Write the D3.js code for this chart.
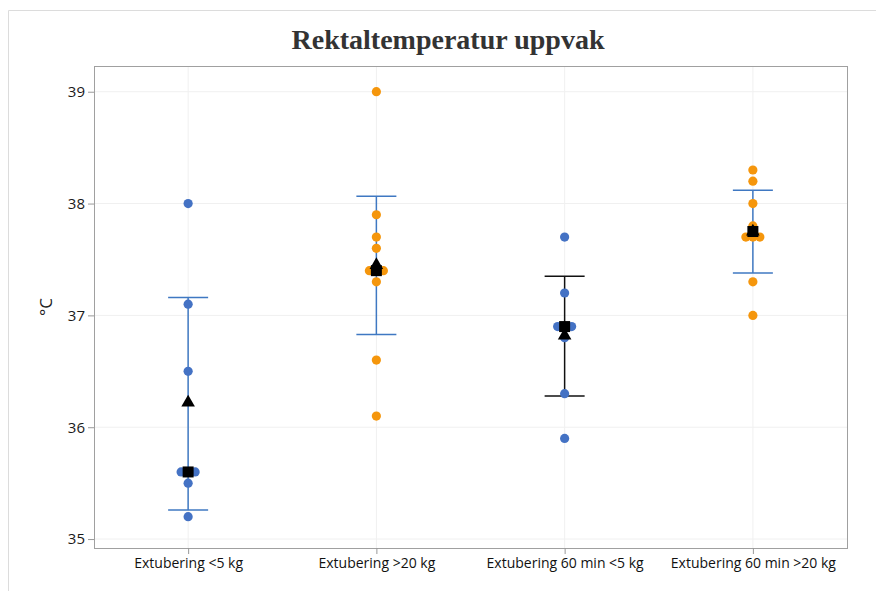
<!DOCTYPE html>
<html>
<head>
<meta charset="utf-8">
<script src="https://cdn.jsdelivr.net/npm/d3@7"></script>
<style>
  body { margin: 0; background: #fff; }
  svg { display: block; }
</style>
</head>
<body>
<div id="chart"></div>
<script>
// groups on the x axis
var categories = ["Extubering <5 kg", "Extubering >20 kg", "Extubering 60 min <5 kg", "Extubering 60 min >20 kg"];

// individual observations, one list per group
var obsLess5 = [38.0, 37.1, 36.5, 35.6, 35.6, 35.6, 35.5, 35.2];
var obsOver20 = [39.0, 37.9, 37.7, 37.6, 37.4, 37.4, 37.4, 37.3, 36.6, 36.1];
var obs60Less5 = [37.7, 37.2, 36.9, 36.9, 36.9, 36.8, 36.3, 35.9];
var obs60Over20 = [38.3, 38.2, 38.0, 37.8, 37.7, 37.7, 37.7, 37.3, 37.0];

// summary markers
var means = [36.22, 37.45, 36.82, 37.75];
var medians = [35.6, 37.4, 36.9, 37.75];
var errLow = [35.26, 36.83, 36.28, 37.38];
var errHigh = [37.16, 38.065, 37.35, 38.12];

var yTicks = [35, 36, 37, 38, 39];

var width = 876, height = 591;
var margin = { top: 66, right: 29, bottom: 43, left: 94 };
var blue = "#4472c4", orange = "#f5960c";
var pointColors = [blue, orange, blue, orange];
var errColors = ["#3f78c2", "#3f78c2", "#111", "#3f78c2"];

var svg = d3.select("#chart").append("svg")
    .attr("width", width)
    .attr("height", height);

// light outer frame
svg.append("path")
    .attr("d", "M8.5," + height + "V10.5H" + width)
    .attr("fill", "none")
    .attr("stroke", "#dcdcdc");

var x = d3.scalePoint()
    .domain(categories)
    .range([margin.left, width - margin.right])
    .padding(0.5);

var y = d3.scaleLinear()
    .domain([34.92, 39.23])
    .range([height - margin.bottom, margin.top]);

// gridlines
svg.append("g").selectAll("line.h")
    .data(yTicks).enter().append("line")
    .attr("x1", margin.left).attr("x2", width - margin.right)
    .attr("y1", function (d) { return y(d); }).attr("y2", function (d) { return y(d); })
    .attr("stroke", "#f0f0f0");

svg.append("g").selectAll("line.v")
    .data(categories).enter().append("line")
    .attr("y1", margin.top).attr("y2", height - margin.bottom)
    .attr("x1", function (d) { return x(d); }).attr("x2", function (d) { return x(d); })
    .attr("stroke", "#f0f0f0");

// plot box
svg.append("rect")
    .attr("x", margin.left + 0.5).attr("y", margin.top + 0.5)
    .attr("width", width - margin.left - margin.right)
    .attr("height", height - margin.top - margin.bottom)
    .attr("fill", "none")
    .attr("stroke", "#a0a0a0");

var yAxis = svg.append("g")
    .attr("transform", "translate(" + margin.left + ",0)")
    .call(d3.axisLeft(y).tickValues(yTicks).tickSize(6).tickFormat(d3.format("d")));
yAxis.select(".domain").remove();
yAxis.selectAll(".tick line").attr("stroke", "#999");
yAxis.selectAll("text")
    .attr("fill", "#1a1a1a")
    .style("font", "15px 'Open Sans', sans-serif")
    .attr("x", -9);

var xAxis = svg.append("g")
    .attr("transform", "translate(0," + (height - margin.bottom) + ")")
    .call(d3.axisBottom(x).tickSize(6));
xAxis.select(".domain").remove();
xAxis.selectAll(".tick line").attr("stroke", "#999");
xAxis.selectAll("text")
    .attr("fill", "#111")
    .attr("y", 10)
    .style("font", "14px 'Open Sans', sans-serif");

// title
svg.append("text")
    .attr("x", 448).attr("y", 49)
    .attr("text-anchor", "middle")
    .attr("fill", "#333")
    .style("font", "bold 28px 'Liberation Serif', 'Times New Roman', serif")
    .text("Rektaltemperatur uppvak");

// y label
svg.append("text")
    .attr("transform", "translate(52," + ((margin.top + height - margin.bottom) / 2) + ") rotate(-90)")
    .attr("text-anchor", "middle")
    .attr("fill", "#222")
    .style("font", "17px 'Open Sans', sans-serif")
    .text("°C");

// error bars
var groups = [obsLess5, obsOver20, obs60Less5, obs60Over20];
var capHalf = 20;
categories.forEach(function (c, i) {
    var g = svg.append("g").attr("stroke", errColors[i]).attr("stroke-width", 1.5);
    g.append("line").attr("x1", x(c)).attr("x2", x(c)).attr("y1", y(errLow[i])).attr("y2", y(errHigh[i]));
    g.append("line").attr("x1", x(c) - capHalf).attr("x2", x(c) + capHalf).attr("y1", y(errLow[i])).attr("y2", y(errLow[i]));
    g.append("line").attr("x1", x(c) - capHalf).attr("x2", x(c) + capHalf).attr("y1", y(errHigh[i])).attr("y2", y(errHigh[i]));
});

// points, ties spread sideways
var dodge = 7;
categories.forEach(function (c, i) {
    var vals = groups[i];
    var pts = vals.map(function (v) {
        var same = vals.filter(function (w) { return w === v; }).length;
        return { v: v, n: same };
    });
    var seen = {};
    pts.forEach(function (p) {
        var k = seen[p.v] || 0;
        seen[p.v] = k + 1;
        p.off = (k - (p.n - 1) / 2) * dodge;
    });
    svg.append("g").selectAll("circle")
        .data(pts).enter().append("circle")
        .attr("cx", function (d) { return x(c) + d.off; })
        .attr("cy", function (d) { return y(d.v); })
        .attr("r", 4.6)
        .attr("fill", pointColors[i]);
});

// mean triangles
svg.append("g").selectAll("path")
    .data(means).enter().append("path")
    .attr("d", d3.symbol().type(d3.symbolTriangle).size(80))
    .attr("transform", function (d, i) { return "translate(" + x(categories[i]) + "," + y(d) + ")"; })
    .attr("fill", "#000");

// median squares
svg.append("g").selectAll("rect")
    .data(medians).enter().append("rect")
    .attr("x", function (d, i) { return x(categories[i]) - 5.5; })
    .attr("y", function (d) { return y(d) - 5.5; })
    .attr("width", 11).attr("height", 11)
    .attr("fill", "#000");
</script>
</body>
</html>
